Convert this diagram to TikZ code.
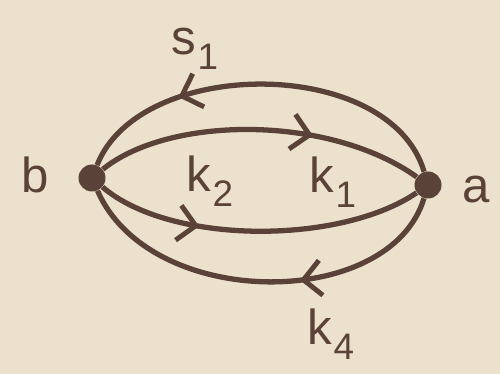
\documentclass[tikz,border=0pt]{standalone}
\usepackage{fontspec}
\setmainfont{Liberation Sans}
\usetikzlibrary{arrows.meta,decorations.markings}

\definecolor{paper}{HTML}{ECE1CC}
\definecolor{ink}{HTML}{5B4239}

\newcommand{\lab}[2]{#1\kern1pt\raisebox{-8pt}{\fontsize{21}{21}\selectfont #2}}

\tikzset{
  vertex/.style={circle,fill=ink,inner sep=0pt,minimum size=0.54cm},
  edge/.style={ink,line width=3pt},
  arrowat/.style={postaction={decorate,decoration={markings,
      mark=at position #1 with {\arrow[ink,line width=2.8pt]{Straight Barb[length=10pt,width=20pt]}}}}},
  lbl/.style={text=ink,anchor=base west,inner sep=0pt,font=\fontsize{28}{32}\selectfont}
}

\begin{document}
\begin{tikzpicture}[x=0.02cm,y=-0.02cm]
    \fill[paper] (0,0) rectangle (500,374);
    \useasboundingbox (0,0) rectangle (500,374);
    \node[vertex] (b) at (92,178) {};
    \node[vertex] (a) at (428,185) {};
    % the four lines between b and a
    \draw[edge,arrowat=0.72] (a) .. controls (390,56) and (140,56) .. (b);
    \draw[edge,arrowat=0.66] (b) .. controls (170,115) and (330,115) .. (a);
    \draw[edge,arrowat=0.32] (b) .. controls (170,245) and (340,245) .. (a);
    \draw[edge,arrowat=0.40] (a) .. controls (390,311) and (150,311) .. (b);
    % labels
    \node[lbl] (lb) at (21,193) {b};
    \node[lbl] (la) at (462,203) {a};
    \node[lbl] (ls1) at (171,55) {\lab{s}{1}};
    \node[lbl] (lk1) at (309,193) {\lab{k}{1}};
    \node[lbl] (lk2) at (186,192) {\lab{k}{2}};
    \node[lbl] (lk4) at (307,345) {\lab{k}{4}};
\end{tikzpicture}
\end{document}
